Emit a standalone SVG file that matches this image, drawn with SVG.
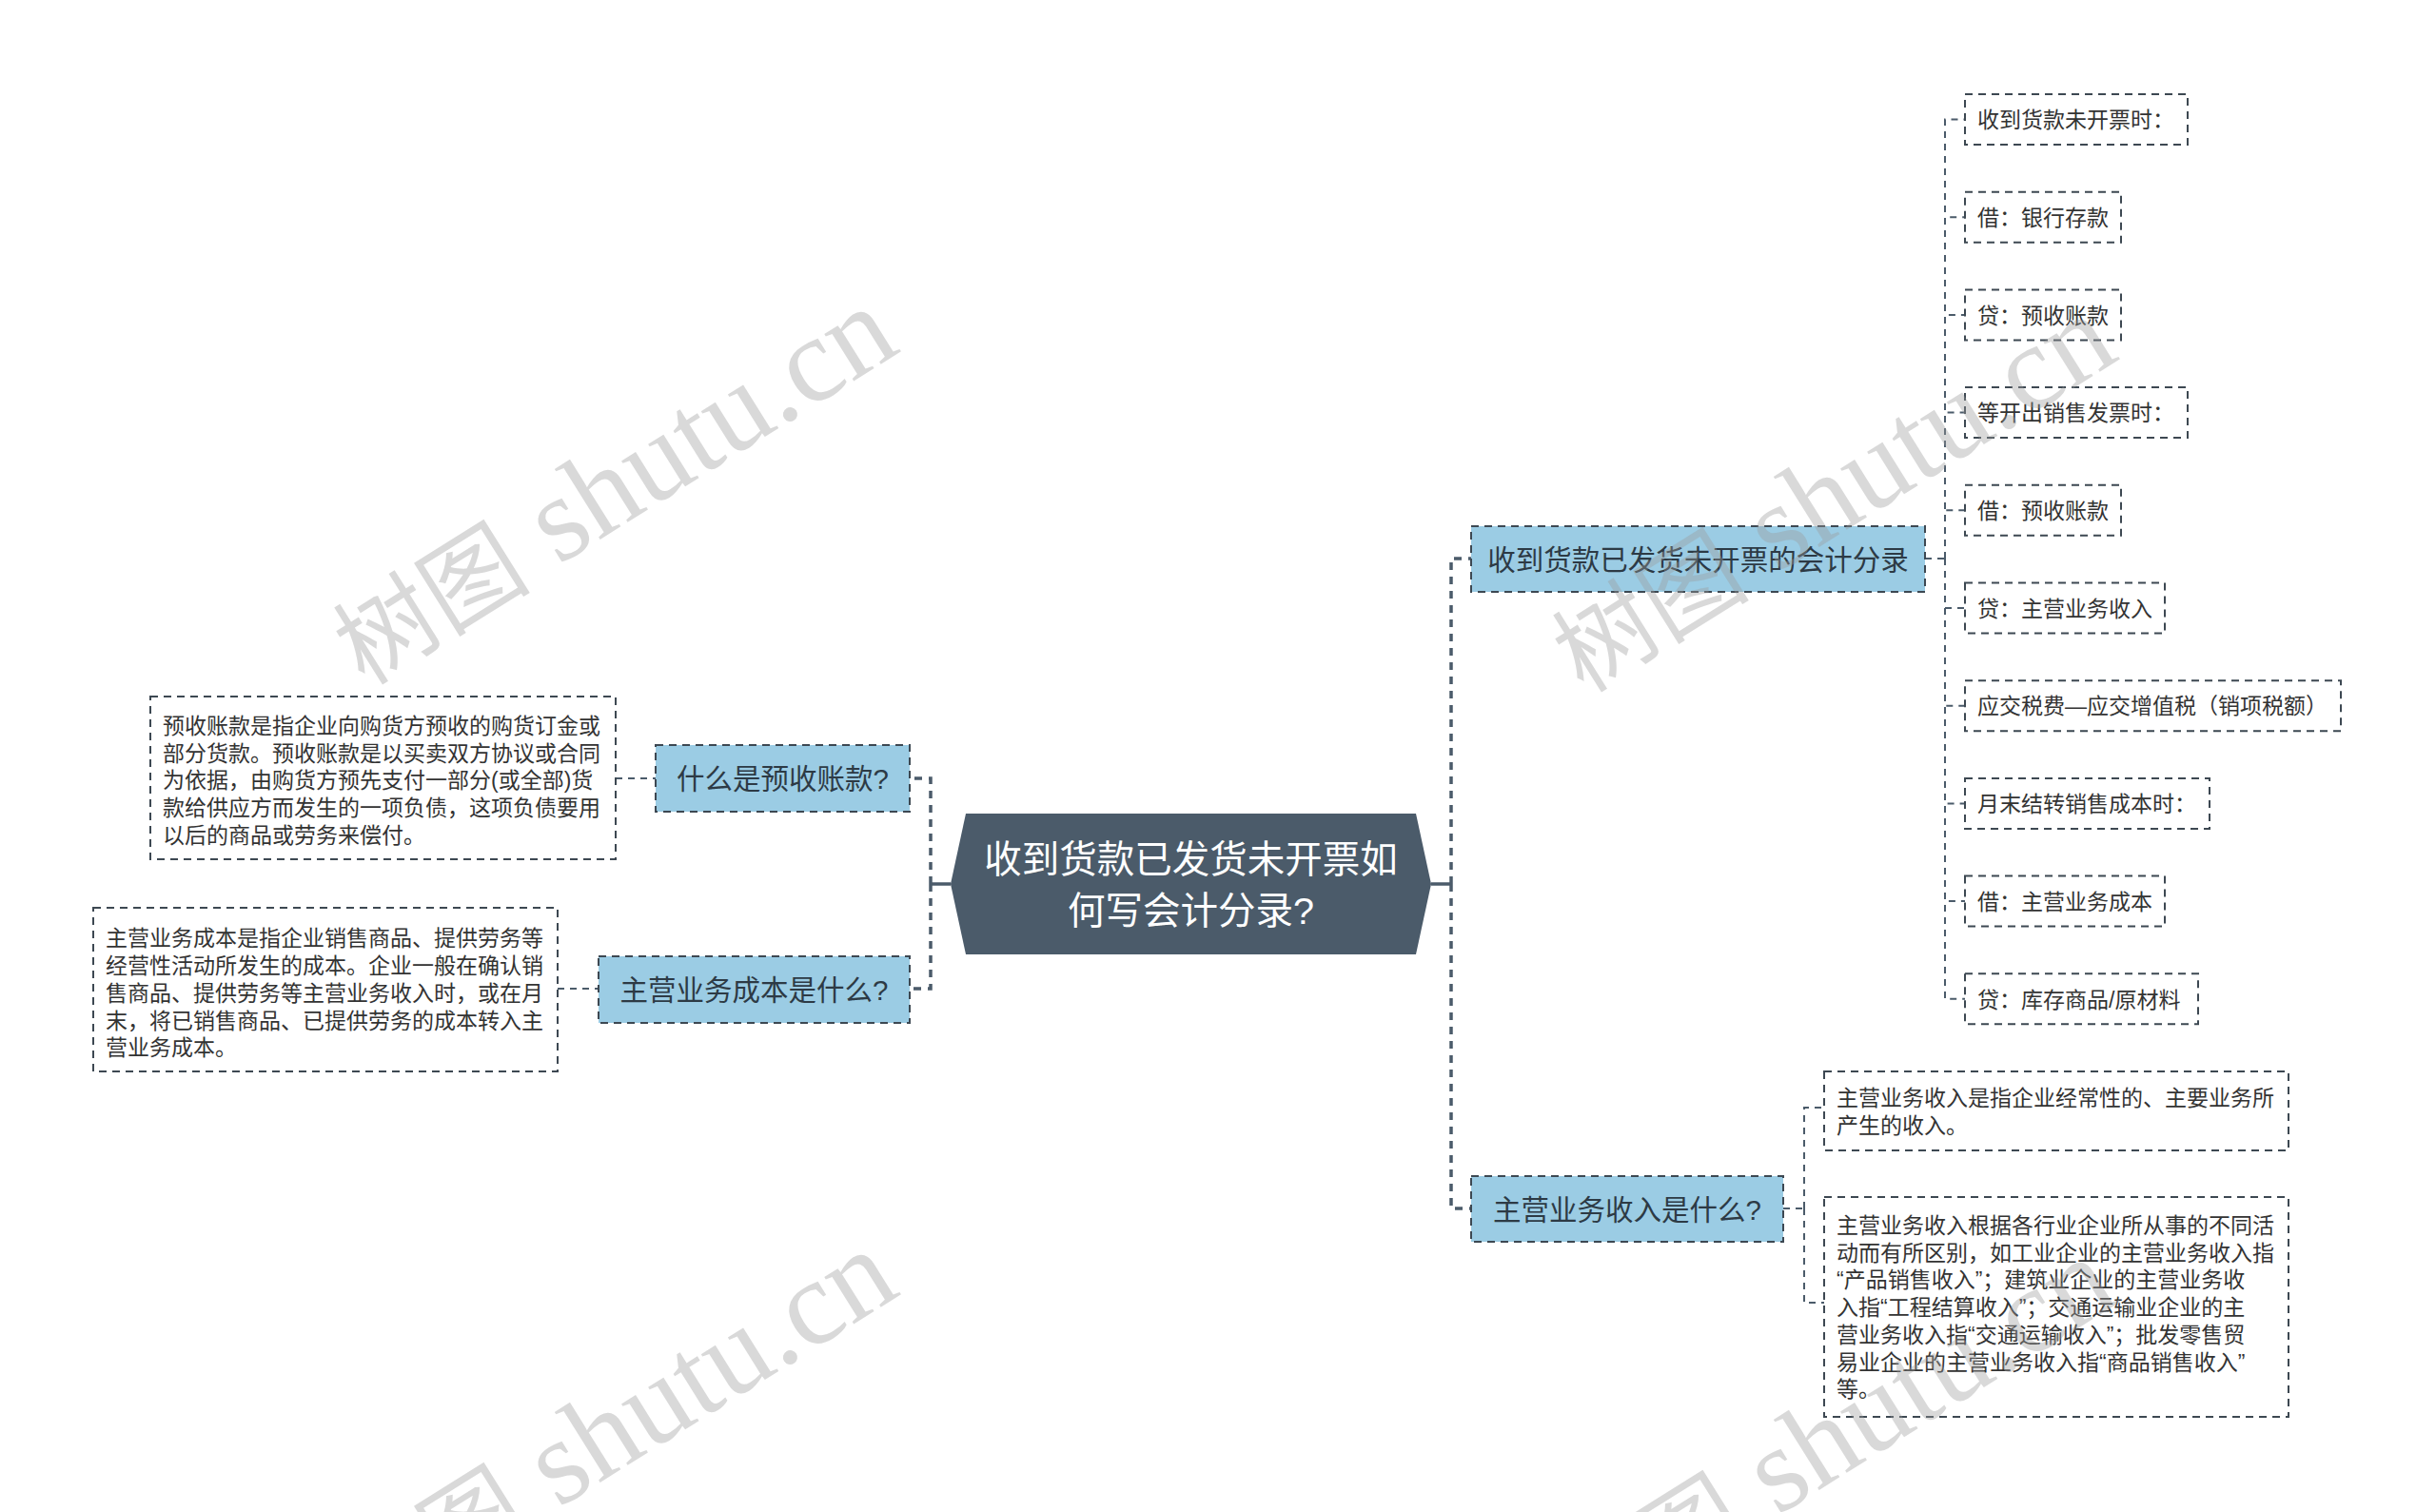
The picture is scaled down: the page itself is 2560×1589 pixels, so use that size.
<svg xmlns="http://www.w3.org/2000/svg" width="2560" height="1589" viewBox="0 0 2560 1589">
<style>
text{font-family:"Liberation Sans","Noto Sans CJK SC",sans-serif;}
.bg{fill:#ffffff;}
.main{fill:#4b5b6a;}
.mt{fill:#ffffff;font-size:39.5px;text-anchor:middle;}
.sub{fill:#9bcce4;stroke:#3d4852;stroke-width:2;stroke-dasharray:8 6;}
.st{fill:#2d3a45;font-size:29.5px;text-anchor:middle;}
.leaf{fill:#ffffff;stroke:#3d4852;stroke-width:2;stroke-dasharray:8 6;}
.lt{fill:#333333;font-size:23px;}
.solid{fill:none;stroke:#4b5b6a;stroke-width:3.5;}
.dash1{fill:none;stroke:#4b5b6a;stroke-width:3.5;stroke-dasharray:8 7;}
.dash2{fill:none;stroke:#4b5b6a;stroke-width:2;stroke-dasharray:7 6;}
.wm{fill:#9a9a9a;fill-opacity:0.38;font-family:"Liberation Serif","Noto Sans CJK SC",serif;font-size:127px;text-anchor:middle;}
.wc{font-size:104px;}
</style>
<rect class="bg" x="0" y="0" width="2560" height="1589"/>

<g id="connectors">
  <path class="solid" d="M999,929 H978"/>
  <path class="dash1" d="M978,929 V818 H957"/>
  <path class="dash1" d="M978,929 V1039 H957"/>
  <path class="solid" d="M1504,929 H1525"/>
  <path class="dash1" d="M1525,929 V587 H1546"/>
  <path class="dash1" d="M1525,929 V1270 H1546"/>
  <path class="dash2" d="M2023,587 H2044"/>
  <path class="dash2" d="M2044,587 V125.5 H2065"/>
  <path class="dash2" d="M2044,587 V228.2 H2065"/>
  <path class="dash2" d="M2044,587 V330.9 H2065"/>
  <path class="dash2" d="M2044,587 V433.6 H2065"/>
  <path class="dash2" d="M2044,587 V536.3 H2065"/>
  <path class="dash2" d="M2044,587 V639 H2065"/>
  <path class="dash2" d="M2044,587 V741.7 H2065"/>
  <path class="dash2" d="M2044,587 V844.4 H2065"/>
  <path class="dash2" d="M2044,587 V947.1 H2065"/>
  <path class="dash2" d="M2044,587 V1049.8 H2065"/>
  <path class="dash2" d="M1874,1270 H1896"/>
  <path class="dash2" d="M1896,1270 V1164 H1917"/>
  <path class="dash2" d="M1896,1270 V1369 H1917"/>
  <path class="dash2" d="M647,818 H689"/>
  <path class="dash2" d="M586,1039 H629"/>
</g>

<g id="center">
  <polygon class="main" points="999,929 1015,855 1488,855 1504,929 1488,1003 1015,1003"/>
  <text class="mt" x="1251.5" y="917">收到货款已发货未开票如</text>
  <text class="mt" x="1251.5" y="971">何写会计分录?</text>
</g>

<g id="n-yushou">
  <rect class="sub" x="689" y="783" width="267" height="70"/>
  <text class="st" x="822.5" y="829">什么是预收账款?</text>
</g>
<g id="n-chengben">
  <rect class="sub" x="629" y="1005" width="327" height="70"/>
  <text class="st" x="792.5" y="1051">主营业务成本是什么?</text>
</g>
<g id="n-fenlu">
  <rect class="sub" x="1546" y="553" width="477" height="69"/>
  <text class="st" x="1784.5" y="599">收到货款已发货未开票的会计分录</text>
</g>
<g id="n-shouru">
  <rect class="sub" x="1546" y="1236" width="328" height="69"/>
  <text class="st" x="1710" y="1282">主营业务收入是什么?</text>
</g>

<g id="leaf-yushou">
  <rect class="leaf" x="158" y="732" width="489" height="171"/>
  <text class="lt" x="171" y="771">预收账款是指企业向购货方预收的购货订金或</text>
  <text class="lt" x="171" y="800">部分货款。预收账款是以买卖双方协议或合同</text>
  <text class="lt" x="171" y="828">为依据，由购货方预先支付一部分(或全部)货</text>
  <text class="lt" x="171" y="857">款给供应方而发生的一项负债，这项负债要用</text>
  <text class="lt" x="171" y="886">以后的商品或劳务来偿付。</text>
</g>
<g id="leaf-chengben">
  <rect class="leaf" x="98" y="954" width="488" height="172"/>
  <text class="lt" x="111" y="994">主营业务成本是指企业销售商品、提供劳务等</text>
  <text class="lt" x="111" y="1023">经营性活动所发生的成本。企业一般在确认销</text>
  <text class="lt" x="111" y="1052">售商品、提供劳务等主营业务收入时，或在月</text>
  <text class="lt" x="111" y="1081">末，将已销售商品、已提供劳务的成本转入主</text>
  <text class="lt" x="111" y="1109">营业务成本。</text>
</g>

<g id="leaf-1">
  <rect class="leaf" x="2065" y="99" width="234" height="53"/>
  <text class="lt" x="2078" y="134">收到货款未开票时：</text>
</g>
<g id="leaf-2">
  <rect class="leaf" x="2065" y="201.7" width="164" height="53"/>
  <text class="lt" x="2078" y="236.9">借：银行存款</text>
</g>
<g id="leaf-3">
  <rect class="leaf" x="2065" y="304.4" width="164" height="53"/>
  <text class="lt" x="2078" y="339.6">贷：预收账款</text>
</g>
<g id="leaf-4">
  <rect class="leaf" x="2065" y="407.1" width="234" height="53"/>
  <text class="lt" x="2078" y="442.3">等开出销售发票时：</text>
</g>
<g id="leaf-5">
  <rect class="leaf" x="2065" y="509.8" width="164" height="53"/>
  <text class="lt" x="2078" y="545">借：预收账款</text>
</g>
<g id="leaf-6">
  <rect class="leaf" x="2065" y="612.5" width="210" height="53"/>
  <text class="lt" x="2078" y="647.7">贷：主营业务收入</text>
</g>
<g id="leaf-7">
  <rect class="leaf" x="2065" y="715.2" width="395" height="53"/>
  <text class="lt" x="2078" y="750.4">应交税费—应交增值税（销项税额）</text>
</g>
<g id="leaf-8">
  <rect class="leaf" x="2065" y="817.9" width="257" height="53"/>
  <text class="lt" x="2078" y="853.1">月末结转销售成本时：</text>
</g>
<g id="leaf-9">
  <rect class="leaf" x="2065" y="920.6" width="210" height="53"/>
  <text class="lt" x="2078" y="955.8">借：主营业务成本</text>
</g>
<g id="leaf-10">
  <rect class="leaf" x="2065" y="1023.3" width="245" height="53"/>
  <text class="lt" x="2078" y="1058.5">贷：库存商品/原材料</text>
</g>

<g id="leaf-shouru-1">
  <rect class="leaf" x="1917" y="1126" width="488" height="83"/>
  <text class="lt" x="1930" y="1162">主营业务收入是指企业经常性的、主要业务所</text>
  <text class="lt" x="1930" y="1191">产生的收入。</text>
</g>
<g id="leaf-shouru-2">
  <rect class="leaf" x="1917" y="1258" width="488" height="231"/>
  <text class="lt" x="1930" y="1296">主营业务收入根据各行业企业所从事的不同活</text>
  <text class="lt" x="1930" y="1324.7">动而有所区别，如工业企业的主营业务收入指</text>
  <text class="lt" x="1930" y="1353.4">“产品销售收入”；建筑业企业的主营业务收</text>
  <text class="lt" x="1930" y="1382.1">入指“工程结算收入”；交通运输业企业的主</text>
  <text class="lt" x="1930" y="1410.8">营业务收入指“交通运输收入”；批发零售贸</text>
  <text class="lt" x="1930" y="1439.5">易业企业的主营业务收入指“商品销售收入”</text>
  <text class="lt" x="1930" y="1468.2">等。</text>
</g>

<g id="watermarks">
  <text class="wm" x="666" y="545" transform="rotate(-32 666 545)"><tspan class="wc">树图</tspan> shutu.cn</text>
  <text class="wm" x="1947" y="553" transform="rotate(-32 1947 553)"><tspan class="wc">树图</tspan> shutu.cn</text>
  <text class="wm" x="666" y="1536" transform="rotate(-32 666 1536)"><tspan class="wc">树图</tspan> shutu.cn</text>
  <text class="wm" x="1947" y="1544" transform="rotate(-32 1947 1544)"><tspan class="wc">树图</tspan> shutu.cn</text>
</g>
</svg>
